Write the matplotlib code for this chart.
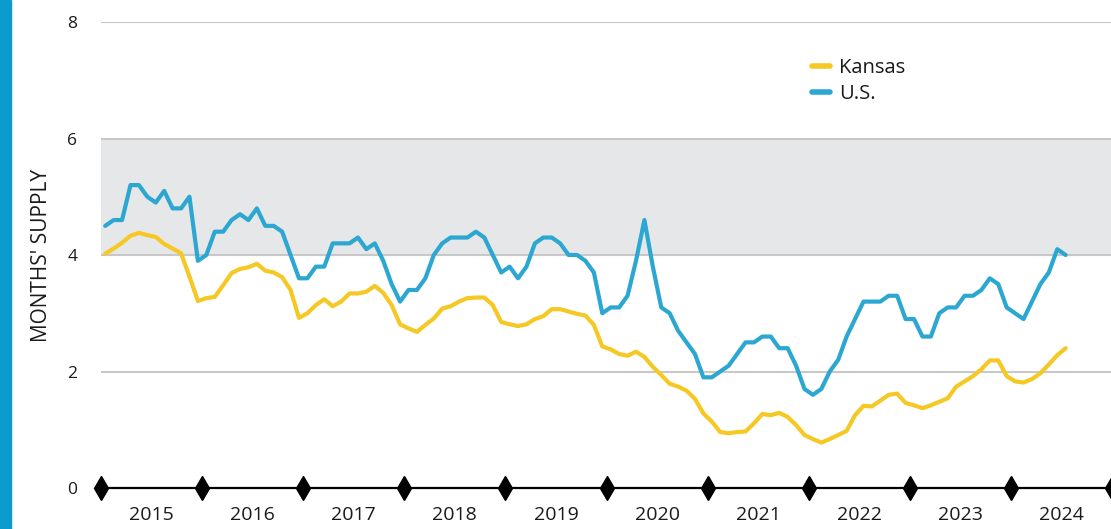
import matplotlib
matplotlib.use("Agg")
import matplotlib.pyplot as plt
from matplotlib.patches import Rectangle
import numpy as np

years = ["2015", "2016", "2017", "2018", "2019", "2020", "2021", "2022", "2023", "2024"]

kansas = [
    4.02, 4.11, 4.21, 4.33, 4.38, 4.34, 4.31, 4.19, 4.11, 4.03, 3.63, 3.21,
    3.26, 3.28, 3.48, 3.69, 3.76, 3.79, 3.85, 3.73, 3.70, 3.62, 3.40, 2.92,
    3.00, 3.14, 3.24, 3.12, 3.20, 3.34, 3.34, 3.37, 3.47, 3.35, 3.14, 2.81,
    2.74, 2.68, 2.80, 2.91, 3.08, 3.12, 3.20, 3.26, 3.27, 3.27, 3.14, 2.85,
    2.81, 2.78, 2.81, 2.90, 2.95, 3.07, 3.07, 3.03, 2.99, 2.96, 2.80, 2.43,
    2.38, 2.30, 2.27, 2.34, 2.25, 2.08, 1.94, 1.79, 1.74, 1.67, 1.53, 1.28,
    1.14, 0.96, 0.94, 0.96, 0.97, 1.11, 1.27, 1.25, 1.29, 1.22, 1.08, 0.91,
    0.84, 0.78, 0.84, 0.91, 0.98, 1.25, 1.41, 1.40, 1.50, 1.60, 1.62, 1.46,
    1.42, 1.37, 1.42, 1.48, 1.54, 1.74, 1.83, 1.92, 2.04, 2.19, 2.19, 1.92,
    1.83, 1.81, 1.87, 1.97, 2.12, 2.28, 2.40,
]

us = [
    4.5, 4.6, 4.6, 5.2, 5.2, 5.0, 4.9, 5.1, 4.8, 4.8, 5.0, 3.9,
    4.0, 4.4, 4.4, 4.6, 4.7, 4.6, 4.8, 4.5, 4.5, 4.4, 4.0, 3.6,
    3.6, 3.8, 3.8, 4.2, 4.2, 4.2, 4.3, 4.1, 4.2, 3.9, 3.5, 3.2,
    3.4, 3.4, 3.6, 4.0, 4.2, 4.3, 4.3, 4.3, 4.4, 4.3, 4.0, 3.7,
    3.8, 3.6, 3.8, 4.2, 4.3, 4.3, 4.2, 4.0, 4.0, 3.9, 3.7, 3.0,
    3.1, 3.1, 3.3, 3.9, 4.6, 3.8, 3.1, 3.0, 2.7, 2.5, 2.3, 1.9,
    1.9, 2.0, 2.1, 2.3, 2.5, 2.5, 2.6, 2.6, 2.4, 2.4, 2.1, 1.7,
    1.6, 1.7, 2.0, 2.2, 2.6, 2.9, 3.2, 3.2, 3.2, 3.3, 3.3, 2.9,
    2.9, 2.6, 2.6, 3.0, 3.1, 3.1, 3.3, 3.3, 3.4, 3.6, 3.5, 3.1,
    3.0, 2.9, 3.2, 3.5, 3.7, 4.1, 4.0,
]

yticks = [0, 2, 4, 6, 8]
band = (4, 6)

YELLOW = "#f5c824"
BLUE = "#2ba7d2"
TEXT = "#1a1a1a"

plt.rcParams["font.family"] = ["Open Sans", "DejaVu Sans"]

fig = plt.figure(figsize=(11.11, 5.29), dpi=100)
ax = fig.add_axes([101 / 1111, (529 - 488) / 529, 1011 / 1111, (488 - 22) / 529])

ax.set_xlim(0, 120)
ax.set_ylim(0, 8)

# band and gridlines
ax.axhspan(band[0], band[1], color="#e6e7e8", zorder=0, lw=0)
for yv in yticks[1:]:
    ax.axhline(yv, color="#c8c8c8", lw=1.5, zorder=1)

x = np.arange(len(kansas)) + 0.5
ax.plot(x, kansas, color=YELLOW, lw=3.0, solid_joinstyle="round", solid_capstyle="round", zorder=3, label="Kansas")
x2 = np.arange(len(us)) + 0.5
ax.plot(x2, us, color=BLUE, lw=3.0, solid_joinstyle="round", solid_capstyle="round", zorder=4, label="U.S.")

# x axis line with diamonds
bounds = np.arange(0, len(years) + 2) * 12
ax.axhline(0, color="black", lw=1.6, zorder=5, clip_on=False)
ax.plot(bounds, np.zeros(len(bounds)), linestyle="none", marker="d", markersize=12,
        color="black", zorder=6, clip_on=False)

for i, yr in enumerate(years):
    ax.text(12 * i + 6, -0.46, yr, ha="center", va="center", fontsize=14,
            color=TEXT, clip_on=False)

for s in ax.spines.values():
    s.set_visible(False)
ax.set_xticks([])
ax.set_yticks(yticks)
ax.set_yticklabels([str(v) for v in yticks], fontsize=12.5, color=TEXT)
ax.tick_params(axis="y", length=0, pad=17)
ax.set_ylabel("MONTHS' SUPPLY", fontsize=15, color=TEXT, labelpad=11)

leg = fig.legend(loc="upper left", bbox_to_anchor=(802 / 1111, (529 - 48) / 529),
                 frameon=False, fontsize=14.5, handlelength=0.9, handletextpad=0.45,
                 labelspacing=0.3, borderpad=0)
for t in leg.get_texts():
    t.set_color(TEXT)
for h in leg.get_lines():
    h.set_linewidth(4)
    h.set_solid_capstyle("round")

# blue bar on the left edge
fig.patches.append(Rectangle((0, 0), 11 / 1111, 1, transform=fig.transFigure,
                             color="#0a9bcf", zorder=0))

fig.savefig("out.png", dpi=100)
